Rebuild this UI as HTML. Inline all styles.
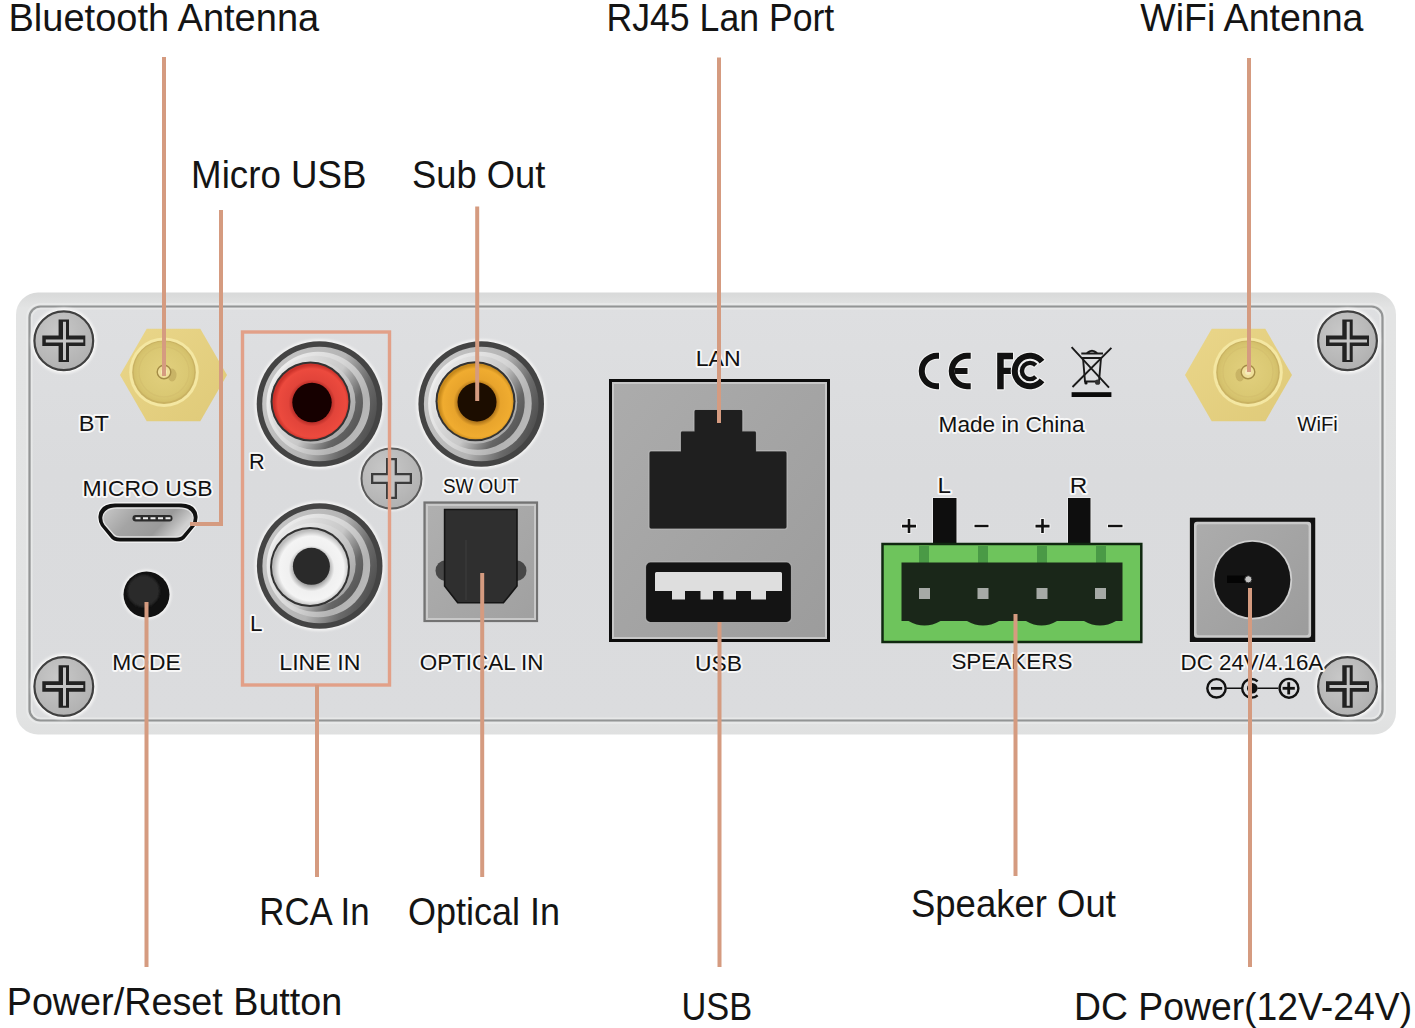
<!DOCTYPE html>
<html><head><meta charset="utf-8">
<style>
html,body{margin:0;padding:0;background:#fff;}
body{width:1415px;height:1028px;overflow:hidden;position:relative;}
svg{position:absolute;left:0;top:0;}
text{font-family:"Liberation Sans",sans-serif;}
</style></head><body>
<svg width="1415" height="1028" viewBox="0 0 1415 1028">

<defs>
  <linearGradient id="faceG" x1="0" y1="0" x2="0" y2="1">
    <stop offset="0" stop-color="#dedfe1"/>
    <stop offset="0.4" stop-color="#dadbdd"/>
    <stop offset="1" stop-color="#dbdcde"/>
  </linearGradient>
  <linearGradient id="rimG" x1="0" y1="0" x2="0" y2="1">
    <stop offset="0" stop-color="#d8d9d9"/>
    <stop offset="0.035" stop-color="#e3e4e4"/>
    <stop offset="0.96" stop-color="#e2e3e3"/>
    <stop offset="1" stop-color="#dfe0e0"/>
  </linearGradient>
  <radialGradient id="screwG" cx="0.4" cy="0.35" r="0.7">
    <stop offset="0" stop-color="#c8c8c8"/>
    <stop offset="1" stop-color="#b0b0b0"/>
  </radialGradient>
  <filter id="soft" x="-10%" y="-10%" width="120%" height="120%"><feGaussianBlur stdDeviation="0.6"/></filter>
  <filter id="soft2" x="-20%" y="-20%" width="140%" height="140%"><feGaussianBlur stdDeviation="1.2"/></filter>
  <g id="screw">
    <circle r="33" fill="#f2f2f2" filter="url(#soft2)"/>
    <circle r="31.3" fill="#fafafa"/>
    <circle r="29.4" fill="url(#screwG)" stroke="#404040" stroke-width="2.2"/>
    <path d="M-5.2,-21.3 h10.4 v16.1 h16.3 v10.4 h-16.3 v16.1 h-10.4 v-16.1 h-16.3 v-10.4 h16.3 z" fill="#222"/>
    <path d="M-0.8,-19 h3 v17.6 h17.3 v3 h-17.3 v17.6 h-3 v-17.6 h-17.2 v-3 h17.2 z" fill="#c4c4c4"/>
  </g>
  <linearGradient id="silB" x1="0" y1="0.3" x2="1" y2="0.7">
    <stop offset="0" stop-color="#c6c6c6"/>
    <stop offset="0.55" stop-color="#b4b4b4"/>
    <stop offset="0.8" stop-color="#6a6a6a"/>
    <stop offset="1" stop-color="#4c4c4c"/>
  </linearGradient>
  <linearGradient id="silC" x1="0" y1="0.2" x2="1" y2="0.8">
    <stop offset="0" stop-color="#f2f2f2"/>
    <stop offset="0.5" stop-color="#d6d6d6"/>
    <stop offset="0.8" stop-color="#b2b2b2"/>
    <stop offset="1" stop-color="#bdbdbd"/>
  </linearGradient>
  <linearGradient id="silC2" x1="0" y1="0.2" x2="1" y2="0.8">
    <stop offset="0" stop-color="#ececec"/>
    <stop offset="0.55" stop-color="#c8c8c8"/>
    <stop offset="0.8" stop-color="#666"/>
    <stop offset="1" stop-color="#505050"/>
  </linearGradient>
  <linearGradient id="silD" x1="0" y1="0.1" x2="1" y2="0.9">
    <stop offset="0" stop-color="#f4f4f4"/>
    <stop offset="0.5" stop-color="#d0d0d0"/>
    <stop offset="1" stop-color="#9a9a9a"/>
  </linearGradient>
  <radialGradient id="redG" cx="0.52" cy="0.52" r="0.5">
    <stop offset="0.4" stop-color="#8a1614"/>
    <stop offset="0.62" stop-color="#e2443a"/>
    <stop offset="0.9" stop-color="#ec4a3e"/>
    <stop offset="1" stop-color="#cc322a"/>
  </radialGradient>
  <radialGradient id="orgG" cx="0.52" cy="0.52" r="0.5">
    <stop offset="0.4" stop-color="#7a4a0a"/>
    <stop offset="0.62" stop-color="#e8a42c"/>
    <stop offset="0.9" stop-color="#f0ac30"/>
    <stop offset="1" stop-color="#c88a1c"/>
  </radialGradient>
  <radialGradient id="whiteG" cx="0.52" cy="0.52" r="0.5">
    <stop offset="0.4" stop-color="#8a8a8a"/>
    <stop offset="0.6" stop-color="#f0f0f0"/>
    <stop offset="0.85" stop-color="#f4f4f4"/>
    <stop offset="1" stop-color="#bcbcbc"/>
  </radialGradient>
  <radialGradient id="holeR" cx="0.5" cy="0.5" r="0.5">
    <stop offset="0.5" stop-color="#0e0202"/>
    <stop offset="1" stop-color="#2a0604"/>
  </radialGradient>
  <g id="rcaBody">
    <circle r="65" fill="#f2f2f2" filter="url(#soft2)"/>
    <circle r="62.8" fill="#444"/>
    <circle r="57.3" fill="url(#silB)"/>
    <circle cx="-1.3" cy="-0.5" r="51.8" fill="url(#silC)"/>
    <circle cx="-3.5" cy="-1.2" r="47" fill="url(#silC2)"/>
    <circle cx="-5.5" cy="-1.8" r="41.5" fill="url(#silD)"/>
  </g>
  <radialGradient id="goldRing" cx="0.5" cy="0.5" r="0.5">
    <stop offset="0" stop-color="#e2d07e"/>
    <stop offset="0.8" stop-color="#dac873"/>
    <stop offset="1" stop-color="#d3bf6a"/>
  </radialGradient>
  <linearGradient id="hexG" x1="0" y1="0" x2="1" y2="1">
    <stop offset="0" stop-color="#ead68a"/>
    <stop offset="1" stop-color="#dfca78"/>
  </linearGradient>
  <linearGradient id="lanG" x1="0" y1="0" x2="1" y2="1">
    <stop offset="0" stop-color="#acacac"/>
    <stop offset="1" stop-color="#9c9c9c"/>
  </linearGradient>
  <linearGradient id="optG" x1="0" y1="0" x2="1" y2="1">
    <stop offset="0" stop-color="#b0b0b0"/>
    <stop offset="1" stop-color="#a0a0a0"/>
  </linearGradient>
  <linearGradient id="muG" x1="0" y1="0" x2="1" y2="0.3">
    <stop offset="0" stop-color="#c8c8c8"/>
    <stop offset="0.4" stop-color="#a4a4a4"/>
    <stop offset="0.75" stop-color="#9a9a9a"/>
    <stop offset="1" stop-color="#d0d0d0"/>
  </linearGradient>
</defs>

<!-- Panel -->
<rect x="16" y="292.5" width="1380" height="442" rx="22" fill="url(#rimG)"/>
<rect x="27" y="304" width="1358" height="419" rx="13" fill="none" stroke="#e9eaea" stroke-width="1.6"/>
<rect x="29.5" y="306.5" width="1353" height="414" rx="11" fill="url(#faceG)" stroke="#939595" stroke-width="2.2"/>
<rect x="31.8" y="308.8" width="1348.4" height="409.4" rx="9" fill="none" stroke="#e7e8e8" stroke-width="1.6"/>

<!-- Screws -->
<use href="#screw" x="63.8" y="340.8"/>
<use href="#screw" x="1347.5" y="340.8"/>
<use href="#screw" x="63.8" y="686.5"/>
<use href="#screw" x="1347.5" y="686.5"/>
<g transform="translate(391.5,478.5)">
  <circle r="32.5" fill="#f2f2f2" filter="url(#soft2)"/>
  <circle r="30" fill="url(#screwG)" stroke="#5a5a5a" stroke-width="2"/>
  <path d="M-5.5,-20.5 h11 v15 h15 v11 h-15 v15 h-11 v-15 h-15 v-11 h15 z" fill="#3c3c3c"/>
  <path d="M-3.2,-18.2 h6.4 v15 h15 v6.4 h-15 v15 h-6.4 v-15 h-15 v-6.4 h15 z" fill="#c2c2c2"/>
</g>
<!-- Antennas -->
<g transform="translate(173.5,375.0)">
  <polygon points="-53.5,0.0 -26.8,-46.3 26.8,-46.3 53.5,0.0 26.8,46.3 -26.8,46.3" fill="url(#hexG)" filter="url(#soft)"/>
  <circle cx="-9.5" cy="-2.8" r="34.8" fill="#f4e7a2" filter="url(#soft)"/>
  <circle cx="-9.5" cy="-2.8" r="31.8" fill="#c9b262"/>
  <circle cx="-9.5" cy="-3.2" r="30.3" fill="url(#goldRing)"/>
  <circle cx="-9.5" cy="-3.2" r="25" fill="none" stroke="#d2bd6c" stroke-width="1.2" opacity="0.6"/>
  <ellipse cx="-1.5" cy="0" rx="4.5" ry="6.5" fill="#b49c52" opacity="0.5"/>
  <circle cx="-9.5" cy="-3" r="6.8" fill="#efdf9a" stroke="#a48c46" stroke-width="1.4"/>
  <circle cx="-9.5" cy="-3" r="3" fill="#f6eab8"/>
</g>
<g transform="translate(1238.5,375.0)">
  <polygon points="-53.5,0.0 -26.8,-46.3 26.8,-46.3 53.5,0.0 26.8,46.3 -26.8,46.3" fill="url(#hexG)" filter="url(#soft)"/>
  <circle cx="9.5" cy="-2.8" r="34.8" fill="#f4e7a2" filter="url(#soft)"/>
  <circle cx="9.5" cy="-2.8" r="31.8" fill="#c9b262"/>
  <circle cx="9.5" cy="-3.2" r="30.3" fill="url(#goldRing)"/>
  <circle cx="9.5" cy="-3.2" r="25" fill="none" stroke="#d2bd6c" stroke-width="1.2" opacity="0.6"/>
  <ellipse cx="1.5" cy="0" rx="4.5" ry="6.5" fill="#b49c52" opacity="0.5"/>
  <circle cx="9.5" cy="-3" r="6.8" fill="#efdf9a" stroke="#a48c46" stroke-width="1.4"/>
  <circle cx="9.5" cy="-3" r="3" fill="#f6eab8"/>
</g>

<!-- LINE IN box -->
<rect x="242.5" y="332" width="147" height="353" fill="none" stroke="#e2a088" stroke-width="3.4"/>
<!-- RCA jacks -->
<g transform="translate(319.5,404.0)">
  <use href="#rcaBody"/>
  <circle cx="-9.0" cy="-2.5" r="40" fill="#333"/>
  <circle cx="-9.0" cy="-2.5" r="38" fill="url(#redG)"/>
  <circle cx="-7.5" cy="-1.5" r="19.7" fill="#120202" filter="url(#soft)"/>
</g>
<g transform="translate(319.7,566.0)">
  <use href="#rcaBody"/>
  <circle cx="-9.7" cy="1.0" r="40" fill="#333"/>
  <circle cx="-9.7" cy="1.0" r="38" fill="url(#whiteG)"/>
  <circle cx="-8.3" cy="0.3" r="18.5" fill="#2a2a2a" filter="url(#soft)"/>
</g>
<g transform="translate(481.2,404.0)">
  <use href="#rcaBody"/>
  <circle cx="-5.7" cy="-2.7" r="40" fill="#333"/>
  <circle cx="-5.7" cy="-2.7" r="38" fill="url(#orgG)"/>
  <circle cx="-4.2" cy="-2.0" r="19.5" fill="#1a0a04" filter="url(#soft)"/>
</g>

<!-- Optical -->
<g>
  <rect x="424.5" y="502.5" width="112.5" height="118.5" fill="url(#optG)" stroke="#737373" stroke-width="2.2"/>
  <path d="M427,505 H535 V619 H427 Z" fill="none" stroke="#c8c8c8" stroke-width="2"/>
  <circle cx="446" cy="570.7" r="10.5" fill="#474747"/>
  <circle cx="516" cy="570.7" r="10.5" fill="#474747"/>
  <path d="M444.6,509.5 H517 V586 L503.4,602.8 H457.7 L444.6,586 Z" fill="#2f2f2f" stroke="#151515" stroke-width="1.6"/>
  <path d="M466,540 V600" stroke="#3a3a3a" stroke-width="1.5"/>
</g>

<!-- LAN / USB block -->
<g>
  <rect x="610.5" y="380.5" width="218" height="260" fill="url(#lanG)" stroke="#0c0c0c" stroke-width="3"/>
  <rect x="613" y="383" width="213" height="255" fill="none" stroke="#c6c6c6" stroke-width="2"/>
  <path d="M696,409.5 H741 Q742.8,409.5 742.8,411.5 V430.8 H754.5 Q756.5,430.8 756.5,432.8 V450.9 H785 Q787,450.9 787,452.9 V527 Q787,529 785,529 H651 Q649,529 649,527 V452.9 Q649,450.9 651,450.9 H680.4 V432.8 Q680.4,430.8 682.4,430.8 H694 V411.5 Q694,409.5 696,409.5 Z" fill="#1f1f1f" stroke="#c0c0c0" stroke-width="1.2" stroke-opacity="0.7"/>
  <rect x="645.5" y="562" width="146" height="60.5" rx="5" fill="#141414" stroke="#c0c0c0" stroke-width="1.2" stroke-opacity="0.7"/>
  <path d="M656.5,572 H780.5 Q782,572 782,573.5 V591 H766 V599.5 H751 V591 H736 V599.5 H723.5 V591 H713 V599.5 H700.5 V591 H685 V599.5 H672 V591 H655 V573.5 Q655,572 656.5,572 Z" fill="#dedede"/>
</g>

<!-- CE FCC WEEE -->
<g fill="#111" stroke="#f2f2f2" stroke-width="2.2" paint-order="stroke" stroke-linejoin="round">
  <path d="M939,352.75 H937 A18.25,18.25 0 0 0 937,389.25 H939 V383.25 H937 A12.25,12.25 0 0 1 937,358.75 H939 Z"/>
  <path d="M970.7,352.75 H967 A18.25,18.25 0 0 0 967,389.25 H970.7 V383.25 H967 A12.25,12.25 0 0 1 967,358.75 H970.7 Z M955,368 H967.5 V374 H955 Z"/>
  <path d="M997.2,352.8 H1013 V359.3 H1003.7 V367.8 H1012 V374 H1003.7 V389.3 H997.2 Z"/>
  <path d="M1044.4,359.76 A18.25,18.25 0 1 0 1044.4,382.24 L1039.65,378.54 A12.25,12.25 0 1 1 1039.65,363.46 Z"/>
  <path d="M1037.3,363.7 A10.3,10.3 0 1 0 1037.3,378.3 L1034.2,375.2 A5.9,5.9 0 1 1 1034.2,366.8 Z"/>
</g>
<g stroke="#1a1a1a" fill="none" stroke-width="1.9">
  <path d="M1071.6,347.2 L1109,387.6 M1111.4,347.8 L1072.5,387"/>
  <path d="M1083,358 H1101 L1099,381.5 H1085 Z"/>
  <path d="M1081.3,353.5 H1103 M1087,353 Q1092,348.5 1097,353"/>
</g>
<circle cx="1097.6" cy="382.2" r="2.6" fill="#333"/>
<circle cx="1086" cy="383" r="1.6" fill="#111"/>
<rect x="1071.6" y="392.2" width="39.8" height="4.8" fill="#0a0a0a"/>

<!-- +/- signs -->
<g fill="#111" stroke="#f2f2f2" stroke-width="2" paint-order="stroke">
  <path d="M902,524.8 h14 v2.6 h-14 z M907.7,519 h2.6 v14 h-2.6 z"/>
  <path d="M974.5,524.8 h14 v2.4 h-14 z"/>
  <path d="M1035.5,524.8 h14 v2.6 h-14 z M1041.2,519 h2.6 v14 h-2.6 z"/>
  <path d="M1108,524.8 h14.5 v2.4 h-14.5 z"/>
</g>

<!-- Speaker terminal -->
<g>
  <rect x="933" y="498" width="23.5" height="46" fill="#0e0e0e" stroke="#f0f0f0" stroke-width="1.5" paint-order="stroke"/>
  <rect x="1068" y="498" width="22.5" height="46" fill="#0e0e0e" stroke="#f0f0f0" stroke-width="1.5" paint-order="stroke"/>
  <rect x="882.5" y="544" width="258.8" height="98" fill="#6ec45c" stroke="#102810" stroke-width="2.5"/>
  <rect x="919" y="546" width="10" height="17" fill="#4a9a46"/>
  <rect x="978" y="546" width="10" height="17" fill="#4a9a46"/>
  <rect x="1037" y="546" width="10" height="17" fill="#4a9a46"/>
  <rect x="1096" y="546" width="10" height="17" fill="#4a9a46"/>
  <path d="M901.5,562.5 H1122.5 V621 H1116 Q1100,630 1084,621 H1057 Q1041.5,630 1026,621 H999 Q983,630 967,621 H940.5 Q924.5,630 908.5,621 H901.5 Z" fill="#1a2719"/>
  <rect x="919" y="588" width="11" height="11" fill="#a6aaa6"/>
  <rect x="977.5" y="588" width="11" height="11" fill="#a6aaa6"/>
  <rect x="1036.5" y="588" width="11" height="11" fill="#a6aaa6"/>
  <rect x="1095" y="588" width="11" height="11" fill="#a6aaa6"/>
</g>

<!-- DC jack -->
<g>
  <rect x="1189.8" y="517.6" width="125.5" height="124.4" fill="#111" stroke="#eeeeee" stroke-width="1.5" paint-order="stroke"/>
  <rect x="1194" y="521.8" width="117.1" height="116" rx="3" fill="#c9c9c9"/>
  <rect x="1196.5" y="524.3" width="112.1" height="111" rx="2.5" fill="url(#lanG)"/>
  <circle cx="1252.4" cy="579.7" r="39.8" fill="#cfcfcf"/>
  <circle cx="1252.4" cy="579.7" r="38" fill="#141414"/>
  <rect x="1227" y="575.5" width="20" height="7.5" fill="#040404"/>
  <circle cx="1248.3" cy="579.3" r="3.6" fill="#c4c4c4" stroke="#2a2a2a" stroke-width="1"/>
</g>
<!-- DC polarity -->
<g stroke="#111" fill="none">
  <path d="M1226.5,688.3 H1242.5 M1257.5,688.3 H1278.3" stroke-width="1.6"/>
  <circle cx="1216.5" cy="688.3" r="9.2" stroke-width="2.4"/>
  <circle cx="1289" cy="688.3" r="9.4" stroke-width="2.4"/>
  <path d="M1257.6,681.3 A9.3,9.3 0 1 0 1257.6,695.3" stroke-width="2.4"/>
</g>
<g fill="#111">
  <rect x="1211" y="687" width="11.2" height="2.7"/>
  <rect x="1282.6" y="686.9" width="12.2" height="2.8"/>
  <rect x="1287.3" y="682.2" width="2.8" height="12.2"/>
  <circle cx="1252.3" cy="688.3" r="5.3"/>
</g>

<!-- Micro USB -->
<g>
  <path d="M115,503.5 H181 Q196,503.5 197.5,516 Q198,521 195,526 L186,537 Q183,541.5 176,541.5 H120 Q113,541.5 110,537 L101,526 Q98,521 98.5,516 Q100,503.5 115,503.5 Z" fill="#111" stroke="#f6f6f6" stroke-width="2.4" paint-order="stroke"/>
  <path d="M117,508 H179 Q191.5,508 193,517 Q193.5,521 191,524.5 L182.5,534.5 Q180.5,537 176,537 H120 Q115.5,537 113.5,534.5 L105,524.5 Q102.5,521 103,517 Q104.5,508 117,508 Z" fill="url(#muG)" stroke="#e4e4e4" stroke-width="1.3"/>
  <rect x="132.5" y="515" width="40" height="6.5" rx="3.2" fill="#2c2c2c"/>
  <path d="M135.5,518.3 h5 m2.5,0 h5 m2.5,0 h5 m2.5,0 h5 m2.5,0 h5" stroke="#ececec" stroke-width="2"/>
</g>
<!-- Mode button -->
<circle cx="146.5" cy="594.5" r="25" fill="#f2f2f2" filter="url(#soft2)"/>
<circle cx="146.5" cy="594.5" r="23" fill="#111"/>
<circle cx="143.5" cy="591" r="16" fill="#2a2a2a" filter="url(#soft2)"/>
<!-- panel labels -->
<g fill="#111" stroke="#f7f7f7" stroke-width="3.8" stroke-linejoin="round" paint-order="stroke">
<text transform="translate(78.81,431.20) scale(1.0462,1)" font-size="22.5">BT</text>
<text transform="translate(82.46,495.80) scale(1.0202,1)" font-size="22.5">MICRO USB</text>
<text transform="translate(112.27,670.30) scale(1.0138,1)" font-size="22.5">MODE</text>
<text transform="translate(249.08,469.40) scale(0.9615,1)" font-size="22.5">R</text>
<text transform="translate(250.00,630.80) scale(1.0000,1)" font-size="22.5">L</text>
<text transform="translate(279.24,670.30) scale(1.0307,1)" font-size="22.5">LINE IN</text>
<text transform="translate(442.93,493.00) scale(0.9688,1)" font-size="19.5">SW OUT</text>
<text transform="translate(419.70,670.00) scale(0.9967,1)" font-size="22.5">OPTICAL IN</text>
<text transform="translate(695.75,365.70) scale(1.0250,1)" font-size="22.5">LAN</text>
<text transform="translate(694.97,670.60) scale(1.0163,1)" font-size="22.5">USB</text>
<text transform="translate(938.59,432.40) scale(1.0063,1)" font-size="22.5">Made in China</text>
<text transform="translate(937.44,492.80) scale(1.0800,1)" font-size="22.5">L</text>
<text transform="translate(1069.84,492.80) scale(1.0800,1)" font-size="22.5">R</text>
<text transform="translate(951.40,669.40) scale(0.9983,1)" font-size="22.5">SPEAKERS</text>
<text transform="translate(1297.30,431.20) scale(0.9875,1)" font-size="20.5">WiFi</text>
<text transform="translate(1180.51,669.60) scale(0.9930,1)" font-size="22.5">DC 24V/4.16A</text>
</g>

<!-- leader lines -->
<g stroke="#d59b80" stroke-width="4" fill="none">
  <path d="M164,57 V376"/>
  <path d="M221,210 V524 H190"/>
  <path d="M477.2,206.5 V401"/>
  <path d="M719,57.5 V423"/>
  <path d="M1249,58 V372"/>
  <path d="M146.5,602 V967"/>
  <path d="M317,685 V877"/>
  <path d="M482.2,573 V877"/>
  <path d="M719.5,622 V967"/>
  <path d="M1015.5,614 V876"/>
  <path d="M1250,588 V967"/>
</g>

<!-- big labels -->
<g fill="#141414">
<text transform="translate(8.50,31.00) scale(1.0003,1)" font-size="38">Bluetooth Antenna</text>
<text transform="translate(606.49,31.00) scale(0.9379,1)" font-size="38">RJ45 Lan Port</text>
<text transform="translate(1140.20,31.00) scale(0.9881,1)" font-size="38">WiFi Antenna</text>
<text transform="translate(191.10,187.60) scale(0.9661,1)" font-size="38">Micro USB</text>
<text transform="translate(412.09,187.60) scale(0.9562,1)" font-size="38">Sub Out</text>
<text transform="translate(259.25,924.50) scale(0.9165,1)" font-size="38">RCA In</text>
<text transform="translate(408.11,924.50) scale(0.9474,1)" font-size="38">Optical In</text>
<text transform="translate(6.72,1014.50) scale(0.9934,1)" font-size="38">Power/Reset Button</text>
<text transform="translate(681.48,1019.50) scale(0.9055,1)" font-size="38">USB</text>
<text transform="translate(910.98,916.60) scale(0.9607,1)" font-size="38">Speaker Out</text>
<text transform="translate(1074.05,1020.00) scale(0.9823,1)" font-size="38">DC Power(12V-24V)</text>
</g>
</svg>
</body></html>
